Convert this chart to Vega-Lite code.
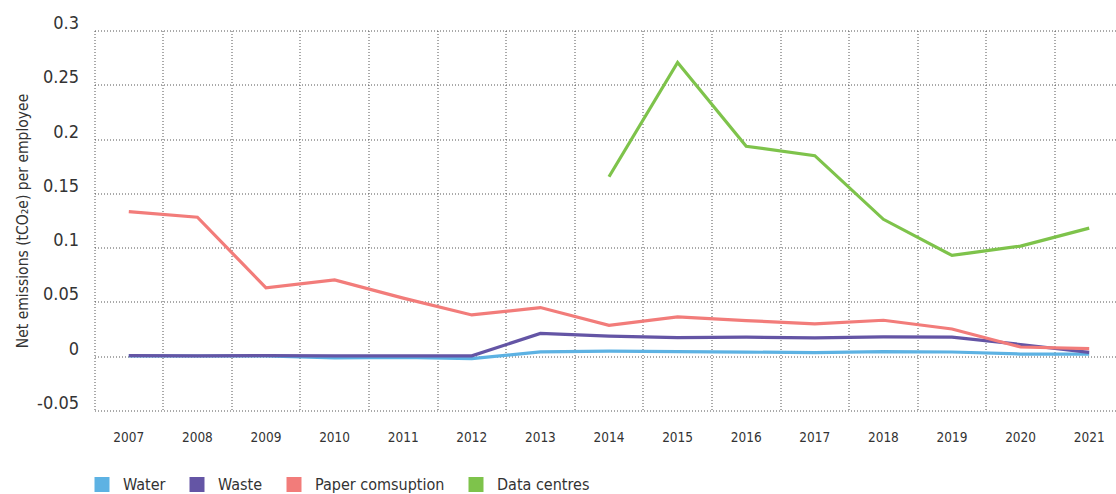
{
  "$schema": "https://vega.github.io/schema/vega-lite/v6.json",
  "autosize": "none",
  "padding": {"left": 94.5, "top": 30.5, "right": 0, "bottom": 83.5},
  "width": 1029,
  "height": 380,
  "background": "white",
  "config": {
    "view": {"stroke": null},
    "font": "DejaVu Sans Condensed, sans-serif"
  },
  "data": {
    "values": [
      {"year": "2007", "series": "Water", "value": 0.0003},
      {"year": "2008", "series": "Water", "value": 0.0002},
      {"year": "2009", "series": "Water", "value": 0.0003},
      {"year": "2010", "series": "Water", "value": -0.0015},
      {"year": "2011", "series": "Water", "value": -0.001},
      {"year": "2012", "series": "Water", "value": -0.0022},
      {"year": "2013", "series": "Water", "value": 0.004},
      {"year": "2014", "series": "Water", "value": 0.0047},
      {"year": "2015", "series": "Water", "value": 0.0042},
      {"year": "2016", "series": "Water", "value": 0.0038},
      {"year": "2017", "series": "Water", "value": 0.0033},
      {"year": "2018", "series": "Water", "value": 0.0043},
      {"year": "2019", "series": "Water", "value": 0.0039},
      {"year": "2020", "series": "Water", "value": 0.002},
      {"year": "2021", "series": "Water", "value": 0.002},
      {"year": "2007", "series": "Waste", "value": 0.0005},
      {"year": "2008", "series": "Waste", "value": 0.0003},
      {"year": "2009", "series": "Waste", "value": 0.0005},
      {"year": "2010", "series": "Waste", "value": 0.0003},
      {"year": "2011", "series": "Waste", "value": 0.0003},
      {"year": "2012", "series": "Waste", "value": 0.0003},
      {"year": "2013", "series": "Waste", "value": 0.021},
      {"year": "2014", "series": "Waste", "value": 0.0185},
      {"year": "2015", "series": "Waste", "value": 0.0172},
      {"year": "2016", "series": "Waste", "value": 0.0175},
      {"year": "2017", "series": "Waste", "value": 0.0168},
      {"year": "2018", "series": "Waste", "value": 0.0178},
      {"year": "2019", "series": "Waste", "value": 0.0175},
      {"year": "2020", "series": "Waste", "value": 0.0108},
      {"year": "2021", "series": "Waste", "value": 0.0035},
      {"year": "2007", "series": "Paper comsuption", "value": 0.1331},
      {"year": "2008", "series": "Paper comsuption", "value": 0.128},
      {"year": "2009", "series": "Paper comsuption", "value": 0.063},
      {"year": "2010", "series": "Paper comsuption", "value": 0.0703},
      {"year": "2011", "series": "Paper comsuption", "value": 0.0535},
      {"year": "2012", "series": "Paper comsuption", "value": 0.038},
      {"year": "2013", "series": "Paper comsuption", "value": 0.0448},
      {"year": "2014", "series": "Paper comsuption", "value": 0.0284},
      {"year": "2015", "series": "Paper comsuption", "value": 0.0362},
      {"year": "2016", "series": "Paper comsuption", "value": 0.0328},
      {"year": "2017", "series": "Paper comsuption", "value": 0.0297},
      {"year": "2018", "series": "Paper comsuption", "value": 0.0331},
      {"year": "2019", "series": "Paper comsuption", "value": 0.0251},
      {"year": "2020", "series": "Paper comsuption", "value": 0.0085},
      {"year": "2021", "series": "Paper comsuption", "value": 0.0069},
      {"year": "2014", "series": "Data centres", "value": 0.1653},
      {"year": "2015", "series": "Data centres", "value": 0.2706},
      {"year": "2016", "series": "Data centres", "value": 0.1934},
      {"year": "2017", "series": "Data centres", "value": 0.1847},
      {"year": "2018", "series": "Data centres", "value": 0.1261},
      {"year": "2019", "series": "Data centres", "value": 0.0928},
      {"year": "2020", "series": "Data centres", "value": 0.1014},
      {"year": "2021", "series": "Data centres", "value": 0.118}
    ]
  },
  "mark": {"type": "line", "strokeWidth": 3.2, "strokeJoin": "miter", "strokeCap": "butt"},
  "encoding": {
    "x": {
      "field": "year",
      "type": "ordinal",
      "bandPosition": 0.5,
      "scale": {"type": "band", "paddingInner": 0, "paddingOuter": 0},
      "axis": {
        "title": null,
        "bandPosition": 0,
        "labelAngle": 0,
        "labelBound": false,
        "labelFlush": false,
        "ticks": false,
        "domain": false,
        "grid": true,
        "gridColor": "#555555",
        "gridDash": [1, 2],
        "gridWidth": 1,
        "labelFontSize": 13.5,
        "labelColor": "#333333",
        "labelPadding": 20
      }
    },
    "y": {
      "field": "value",
      "type": "quantitative",
      "scale": {"domain": [-0.05, 0.3], "nice": false, "zero": false},
      "axis": {
        "title": "Net emissions (tCO₂e) per employee",
        "titleFontSize": 15.5,
        "titleFontWeight": "normal",
        "titleColor": "#333333",
        "titlePadding": 6,
        "values": [-0.05, 0, 0.05, 0.1, 0.15, 0.2, 0.25, 0.3],
        "labelExpr": "'' + datum.value",
        "labelFontSize": 18,
        "labelColor": "#333333",
        "labelPadding": 16,
        "labelBaseline": "alphabetic",
        "labelOffset": -2,
        "ticks": false,
        "domain": false,
        "grid": true,
        "gridColor": "#555555",
        "gridDash": [1, 2],
        "gridWidth": 1
      }
    },
    "color": {
      "field": "series",
      "type": "nominal",
      "sort": ["Water", "Waste", "Paper comsuption", "Data centres"],
      "scale": {
        "domain": ["Water", "Waste", "Paper comsuption", "Data centres"],
        "range": ["#5DB2E3", "#6455A5", "#F27C7A", "#7EC34B"]
      },
      "legend": {
        "title": null,
        "orient": "none",
        "direction": "horizontal",
        "legendX": -0.5,
        "legendY": 446,
        "symbolType": "square",
        "symbolSize": 225,
        "symbolStrokeWidth": 0,
        "symbolOpacity": 1,
        "labelFontSize": 16,
        "labelColor": "#333333",
        "labelOffset": 13,
        "columnPadding": 23,
        "labelLimit": 300,
        "encode": {
          "symbols": {
            "update": {
              "fill": {"scale": "color", "field": "value"},
              "strokeWidth": {"value": 0}
            }
          }
        }
      }
    },
    "order": {"field": "year"}
  }
}
